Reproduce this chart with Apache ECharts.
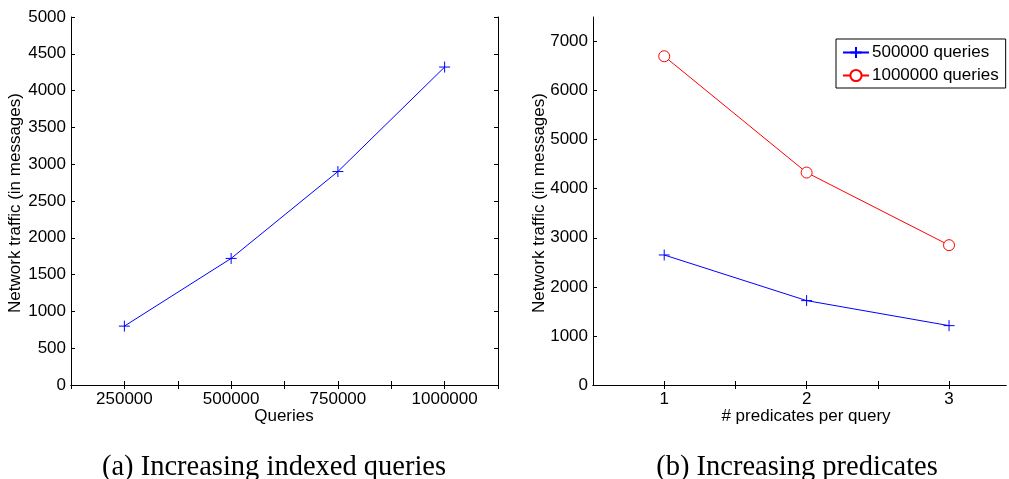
<!DOCTYPE html>
<html>
<head>
<meta charset="utf-8">
<script src="https://cdn.jsdelivr.net/npm/echarts@6/dist/echarts.min.js"></script>
<style>
html,body{margin:0;padding:0;background:#fff;}
#c{width:1009px;height:479px;}
</style>
</head>
<body>
<div id="c"></div>
<script>
// Left chart data
var queriesX = [250000, 500000, 750000, 1000000];
var trafficA = [800, 1720, 2900, 4320];
// Right chart data
var predicatesX = [1, 2, 3];
var traffic500k = [2650, 1720, 1210];
var traffic1M = [6700, 4330, 2850];
var seriesNames = ['500000 queries', '1000000 queries'];
var captions = ['(a) Increasing indexed queries', '(b) Increasing predicates'];
var axisTitlesX = ['Queries', '# predicates per query'];
var axisTitleY = 'Network traffic (in messages)';
var rightTicksX = [1, 1.5, 2, 2.5, 3];

var FONT = 'Liberation Sans, Arial, sans-serif';
var plusPath = 'path://M0,1H2M1,0V2';
var circlePath = 'path://M1,0A1,1 0 1,1 -1,0A1,1 0 1,1 1,0Z';

function pairs(xs, ys){ return xs.map(function(x,i){ return [x, ys[i]]; }); }

var tickBase = {show:true, inside:true, length:4, lineStyle:{color:'#000', width:1}};
var lineStyle = {show:true, lineStyle:{color:'#000', width:1}};
var labelStyle = {color:'#000', fontFamily:FONT, fontSize:17};

function xAx(grid, pos, min, max, interval, fmt, customTicks){
  var tick = Object.assign({}, tickBase);
  if (customTicks) tick.customValues = customTicks;
  return {
    type:'value', gridIndex:grid, position:pos, min:min, max:max, interval:interval,
    axisLine:lineStyle, axisTick:tick, splitLine:{show:false},
    axisLabel: pos==='bottom' ? Object.assign({show:true, margin:6, formatter:fmt, showMinLabel:true, showMaxLabel:true}, labelStyle) : {show:false}
  };
}
function yAx(grid, pos, min, max, interval, hideLine){
  return {
    type:'value', gridIndex:grid, position:pos, min:min, max:max, interval:interval,
    axisLine: hideLine ? {show:false} : lineStyle,
    axisTick: hideLine ? {show:false} : tickBase,
    splitLine:{show:false},
    axisLabel: pos==='left' ? Object.assign({show:true, margin:5, showMaxLabel: max % interval === 0,
      formatter:function(v){ return String(v); }}, labelStyle) : {show:false}
  };
}
function intFmt(v){ return (Math.abs(v - Math.round(v)) < 1e-9 && v >= 1 && v <= 3) ? String(Math.round(v)) : ''; }

var chart = echarts.init(document.getElementById('c'), null, {renderer:'canvas'});
chart.setOption({
  animation:false,
  backgroundColor:'#fff',
  grid:[
    {left:71, top:17, width:427, height:368},
    {left:593, top:17, right:0, height:368}
  ],
  xAxis:[
    xAx(0,'bottom',125000,1125000,125000,function(v){ return (v % 250000 === 0) ? String(v) : ''; }),
    xAx(0,'top',125000,1125000,125000),
    xAx(1,'bottom',0.5,3.4,0.5,intFmt,rightTicksX),
    xAx(1,'top',0.5,3.4,0.5,null,rightTicksX)
  ],
  yAxis:[
    yAx(0,'left',0,5000,500),
    yAx(0,'right',0,5000,500),
    yAx(1,'left',0,7500,1000),
    yAx(1,'right',0,7500,1000,true)
  ],
  legend:{
    show:true, orient:'vertical', left:836, top:39,
    data:seriesNames,
    backgroundColor:'#fff', borderColor:'#000', borderWidth:1, borderRadius:0,
    padding:[5,7,4,6], itemGap:6, itemWidth:26, itemHeight:14,
    textStyle:{color:'#000', fontFamily:FONT, fontSize:17, padding:[0,0,0,-2], lineHeight:17}
  },
  series:[
    {
      type:'line', name:'a', xAxisIndex:0, yAxisIndex:0,
      data:pairs(queriesX, trafficA),
      lineStyle:{color:'#0000ff', width:1},
      symbol:plusPath, symbolSize:11,
      itemStyle:{color:'transparent', borderColor:'#0000ff', borderWidth:1},
      silent:true
    },
    {
      type:'line', name:seriesNames[0], xAxisIndex:2, yAxisIndex:2,
      data:pairs(predicatesX, traffic500k),
      lineStyle:{color:'#0000ff', width:1},
      symbol:plusPath, symbolSize:11,
      itemStyle:{color:'transparent', borderColor:'#0000ff', borderWidth:1},
      silent:true
    },
    {
      type:'line', name:seriesNames[1], xAxisIndex:2, yAxisIndex:2,
      data:pairs(predicatesX, traffic1M),
      lineStyle:{color:'#ff0000', width:1},
      symbol:circlePath, symbolSize:11,
      itemStyle:{color:'#ffffff', borderColor:'#ff0000', borderWidth:1},
      silent:true
    }
  ],
  graphic:[
    {type:'text', x:15, y:203, rotation:Math.PI/2, style:{text:axisTitleY, font:'17px '+FONT, fill:'#000', textAlign:'center', textVerticalAlign:'middle'}},
    {type:'text', x:539, y:203, rotation:Math.PI/2, style:{text:axisTitleY, font:'17px '+FONT, fill:'#000', textAlign:'center', textVerticalAlign:'middle'}},
    {type:'text', x:284, y:416, style:{text:axisTitlesX[0], font:'17px '+FONT, fill:'#000', textAlign:'center', textVerticalAlign:'middle'}},
    {type:'text', x:806, y:416, style:{text:axisTitlesX[1], font:'17px '+FONT, fill:'#000', textAlign:'center', textVerticalAlign:'middle'}},
    {type:'text', x:274, y:468, style:{text:captions[0], font:'28.5px "Liberation Serif", serif', fill:'#000', textAlign:'center', textVerticalAlign:'middle'}},
    {type:'text', x:797, y:468, style:{text:captions[1], font:'28.5px "Liberation Serif", serif', fill:'#000', textAlign:'center', textVerticalAlign:'middle'}}
  ]
});
</script>
</body>
</html>
